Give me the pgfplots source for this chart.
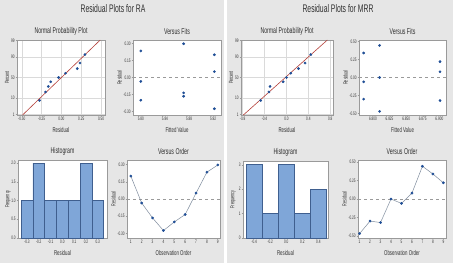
\documentclass[border=0pt]{standalone}
\usepackage{fontspec}
\setmainfont{Liberation Sans}[FakeStretch=0.62]
\usepackage{pgfplots}
\pgfplotsset{compat=1.18}

\definecolor{panelbg}{HTML}{E6E6E6}
\definecolor{framegray}{HTML}{9A9A9A}
\definecolor{gridgray}{HTML}{DADADA}
\definecolor{ptblue}{HTML}{1F4E96}
\definecolor{barfill}{HTML}{7FA6D8}
\definecolor{baredge}{HTML}{3F5F8F}
\definecolor{linegray}{HTML}{7F8C9E}
\definecolor{fitred}{HTML}{B5403A}
\definecolor{txt}{HTML}{303030}

\pgfplotsset{
  resid/.style={
    scale only axis, anchor=south west,
    axis background/.style={fill=white},
    axis line style={draw=framegray, line width=0.4pt},
    every tick/.style={draw=framegray, line width=0.3pt},
    major tick length=1.4pt,
    tick align=outside,
    xtick pos=bottom, ytick pos=left,
    /pgf/number format/assume math mode=true,
    ticklabel style={font=\fontsize{5}{5}\selectfont, text=txt, inner sep=0.8pt},
    every axis title/.style={at={([yshift=9pt]axis description cs:0.5,1)}, anchor=center,
      font=\fontsize{8.4}{8.4}\selectfont, text=txt},
    every axis x label/.style={at={([yshift=-14.5pt]axis description cs:0.5,0)}, anchor=center,
      font=\fontsize{7}{7}\selectfont, text=txt},
    every axis y label/.style={at={([xshift=-13.5pt]axis description cs:0,0.5)}, anchor=center,
      rotate=90, font=\fontsize{6}{6}\selectfont, text=txt},
  },
  narrowy/.style={every axis y label/.append style={at={([xshift=-10pt]axis description cs:0,0.5)}}},
  npp/.style={narrowy, grid=major, major grid style={gridgray, line width=0.3pt},
    ymin=-2.36, ymax=2.36,
    ytick={-2.3263,-1.2816,0,1.2816,2.3263}, yticklabels={1,10,50,90,99},
    title={Normal Probability Plot}, xlabel={Residual}, ylabel={Percent}},
  pts/.style={only marks, mark=*, mark size=1.15pt, color=ptblue},
  zeroline/.style={framegray, dashed, line width=0.4pt},
  hist/.style={ybar interval, fill=barfill, draw=baredge, line width=0.4pt},
  order/.style={linegray, line width=0.5pt, mark=*, mark size=1.1pt,
    mark options={draw=ptblue, fill=ptblue}},
}

\begin{document}
\begin{tikzpicture}
\useasboundingbox (0pt,0pt) rectangle (453pt,263pt);
\fill[panelbg] (0pt,0pt) rectangle (453pt,263pt);
\fill[white] (223.5pt,0pt) rectangle (226.5pt,263pt);

\node[font=\fontsize{11}{11}\selectfont, text=txt] at (113pt,254pt) {Residual Plots for RA};
\node[font=\fontsize{11}{11}\selectfont, text=txt] at (338pt,254pt) {Residual Plots for MRR};

% ---------------- RA ----------------
\begin{axis}[resid, npp, at={(17pt,148pt)}, width=88pt, height=75pt,
  xmin=-0.56, xmax=0.55,
  xtick={-0.5,-0.25,0,0.25,0.5}, xticklabels={-0.50,-0.25,0.00,0.25,0.50}]
\addplot[fitred, line width=0.6pt] coordinates {(-0.49,-2.36) (0.49,2.36)};
\addplot[pts] table {
x y
-0.275 -1.4430
-0.200 -0.9115
-0.165 -0.5615
-0.135 -0.2697
-0.035 0
0.052 0.2697
0.200 0.5615
0.234 0.9115
0.297 1.4430
};
\end{axis}

\begin{axis}[resid, at={(133pt,148pt)}, width=88pt, height=75pt,
  title={Versus Fits}, xlabel={Fitted Value}, ylabel={Residual},
  xmin=5.787, xmax=5.933, ymin=-0.33, ymax=0.33,
  xtick={5.80,5.84,5.88,5.92}, xticklabels={5.80,5.84,5.88,5.92},
  ytick={-0.3,-0.15,0,0.15,0.3}, yticklabels={-0.30,-0.15,0.00,0.15,0.30}]
\addplot[zeroline] coordinates {(5.787,0) (5.933,0)};
\addplot[pts] table {
x y
5.922 0.200
5.800 -0.035
5.871 -0.165
5.922 -0.275
5.800 -0.200
5.871 -0.135
5.922 0.052
5.800 0.234
5.871 0.297
};
\end{axis}

\begin{axis}[resid, narrowy, at={(18pt,25pt)}, width=89pt, height=78pt,
  title={Histogram}, xlabel={Residual}, ylabel={Frequency},
  xmin=-0.376, xmax=0.378, ymin=0, ymax=2.08,
  xtick={-0.3,-0.2,-0.1,0,0.1,0.2,0.3},
  xticklabels={-0.3,-0.2,-0.1,0.0,0.1,0.2,0.3},
  ytick={0,0.5,1,1.5,2}, yticklabels={0.0,0.5,1.0,1.5,2.0}]
\addplot[hist] coordinates {(-0.35,1) (-0.25,2) (-0.15,1) (-0.05,1) (0.05,1) (0.15,2) (0.25,1) (0.35,1)};
\end{axis}

\begin{axis}[resid, at={(127pt,25pt)}, width=93pt, height=78pt,
  title={Versus Order}, xlabel={Observation Order}, ylabel={Residual},
  xmin=0.65, xmax=9.2, ymin=-0.34, ymax=0.34,
  xtick={1,...,9},
  ytick={-0.3,-0.15,0,0.15,0.3}, yticklabels={-0.30,-0.15,0.00,0.15,0.30}]
\addplot[zeroline] coordinates {(0.65,0) (9.2,0)};
\addplot[order] coordinates {(1,0.200) (2,-0.035) (3,-0.165) (4,-0.275) (5,-0.200) (6,-0.135) (7,0.052) (8,0.234) (9,0.297)};
\end{axis}

% ---------------- MRR ----------------
\begin{axis}[resid, npp, at={(241pt,148pt)}, width=92pt, height=75pt,
  xmin=-0.83, xmax=0.85,
  xtick={-0.8,-0.4,0,0.4,0.8}, xticklabels={-0.8,-0.4,0.0,0.4,0.8}]
\addplot[fitred, line width=0.6pt] coordinates {(-0.787,-2.36) (0.747,2.36)};
\addplot[pts] table {
x y
-0.470 -1.4430
-0.320 -0.9115
-0.300 -0.5615
-0.060 -0.2697
0.000 0
0.080 0.2697
0.220 0.5615
0.340 0.9115
0.445 1.4430
};
\end{axis}

\begin{axis}[resid, at={(359pt,148pt)}, width=87pt, height=75pt,
  title={Versus Fits}, xlabel={Fitted Value}, ylabel={Residual},
  xmin=6.779, xmax=6.910, ymin=-0.52, ymax=0.52,
  xtick={6.800,6.825,6.850,6.875,6.900},
  xticklabels={6.800,6.825,6.850,6.875,6.900},
  ytick={-0.5,-0.25,0,0.25,0.5}, yticklabels={-0.50,-0.25,0.00,0.25,0.50}]
\addplot[zeroline] coordinates {(6.779,0) (6.910,0)};
\addplot[pts] table {
x y
6.810 -0.470
6.786 -0.300
6.901 -0.320
6.810 0.000
6.786 -0.060
6.901 0.080
6.810 0.445
6.786 0.340
6.901 0.220
};
\end{axis}

\begin{axis}[resid, narrowy, at={(243pt,25pt)}, width=85pt, height=77pt,
  title={Histogram}, xlabel={Residual}, ylabel={Frequency},
  xmin=-0.54, xmax=0.52, ymin=0, ymax=3.15,
  xtick={-0.4,-0.2,0,0.2,0.4}, xticklabels={-0.4,-0.2,0.0,0.2,0.4},
  ytick={0,1,2,3}]
\addplot[hist] coordinates {(-0.5,3) (-0.3,1) (-0.1,3) (0.1,1) (0.3,2) (0.5,2)};
\end{axis}

\begin{axis}[resid, at={(358pt,25pt)}, width=88pt, height=78pt,
  title={Versus Order}, xlabel={Observation Order}, ylabel={Residual},
  xmin=0.85, xmax=9.25, ymin=-0.53, ymax=0.53,
  xtick={1,...,9},
  ytick={-0.5,-0.25,0,0.25,0.5}, yticklabels={-0.50,-0.25,0.00,0.25,0.50}]
\addplot[zeroline] coordinates {(0.85,0) (9.25,0)};
\addplot[order] coordinates {(1,-0.470) (2,-0.300) (3,-0.320) (4,0.000) (5,-0.060) (6,0.080) (7,0.445) (8,0.340) (9,0.220)};
\end{axis}
\end{tikzpicture}
\end{document}
